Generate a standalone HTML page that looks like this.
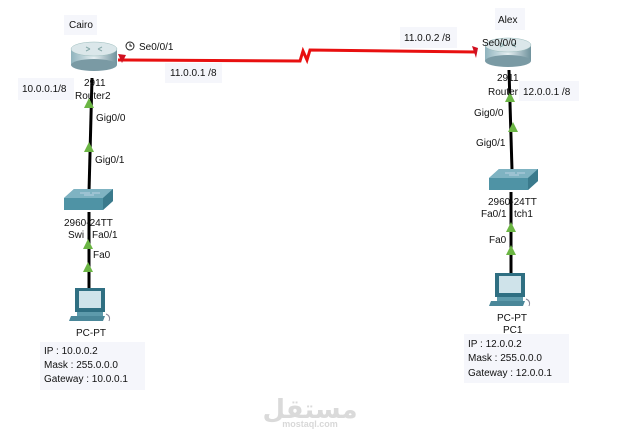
<!DOCTYPE html>
<html><head><meta charset="utf-8"><style>
html,body{margin:0;padding:0;background:#fff;}
svg{display:block;font-family:"Liberation Sans",Arial,sans-serif;font-size:10px;fill:#111;}
.b{fill:#f5f6fb;}
</style></head><body>
<svg width="620" height="438" viewBox="0 0 620 438" xmlns="http://www.w3.org/2000/svg">
<defs>
<linearGradient id="rs" x1="0" y1="0" x2="1" y2="0"><stop offset="0" stop-color="#8fb3bd"/><stop offset=".5" stop-color="#e6eff2"/><stop offset="1" stop-color="#6f929c"/></linearGradient>
<g id="router">
<rect x="-23" y="-8" width="46" height="16" fill="url(#rs)"/>
<ellipse cx="0" cy="8" rx="23" ry="6" fill="#7a9aa4"/>
<ellipse cx="0" cy="-8" rx="23" ry="7" fill="#dbe7ea" stroke="#9bb" stroke-width=".5"/>
<path d="M-8 -10 l4 2 M8 -10 l-4 2 M-8 -6 l4 -2 M8 -6 l-4 -2" stroke="#8aa" stroke-width="1"/>
</g>
<g id="switch">
<polygon points="-24,0 -14,-9 25,-9 25,3 15,12 -24,12" fill="#4f93a5"/>
<polygon points="-24,0 -14,-9 25,-9 15,0" fill="#7fb3c2"/>
<polygon points="15,0 25,-9 25,3 15,12" fill="#3a7a8c"/>
<path d="M-8 -5 h10 M4 -5 h8 M-4 -3 h10" stroke="#cde" stroke-width=".8"/>
</g>
<g id="pc">
<rect x="-16" y="0" width="30" height="24" fill="#2f6f82"/>
<rect x="-12" y="3" width="22" height="17" fill="#cfe3ea"/>
<rect x="-14" y="24" width="26" height="4" fill="#5d9aab"/>
<polygon points="-20,28 14,28 12,33 -22,33" fill="#4a8799"/>
<path d="M15 26 q5 2 3 7" stroke="#889" fill="none"/>
</g>
<polygon id="ga" points="0,-6 5,4 -5,4" fill="#6bb544"/>
</defs>

<line x1="92" y1="78" x2="89" y2="192" stroke="#000" stroke-width="3"/>
<line x1="89" y1="212" x2="89" y2="288" stroke="#000" stroke-width="3"/>
<use href="#ga" x="89" y="104"/><use href="#ga" x="89" y="148"/>
<use href="#ga" x="88" y="245"/><use href="#ga" x="88" y="268"/>
<line x1="509" y1="70" x2="512" y2="170" stroke="#000" stroke-width="3"/>
<line x1="511" y1="192" x2="511" y2="273" stroke="#000" stroke-width="3"/>
<use href="#ga" x="510" y="98"/><use href="#ga" x="513" y="128"/>
<use href="#ga" x="511" y="228"/><use href="#ga" x="511" y="251"/>

<polyline points="118,60 300,61 303,51 307,60 310,50 476,52" fill="none" stroke="#e81010" stroke-width="3"/>
<polygon points="118,54 126,55 122,63" fill="#d01020"/>
<polygon points="472,46 478,48 476,58" fill="#d01020"/>

<use href="#router" x="94" y="57"/>
<use href="#router" x="508" y="53"/>
<use href="#switch" x="88" y="198"/>
<use href="#switch" x="513" y="178"/>
<use href="#pc" x="91" y="288"/>
<use href="#pc" x="511" y="273"/>

<rect class="b" x="64" y="15" width="33" height="20"/><text x="69" y="28">Cairo</text>
<rect class="b" x="18" y="78" width="56" height="22"/><text x="22" y="92">10.0.0.1/8</text>
<text x="84" y="86">2911</text><text x="75" y="99">Router2</text>
<circle cx="130" cy="46" r="4" fill="none" stroke="#222"/><path d="M130 43.5v2.5h2" stroke="#222" fill="none"/>
<text x="139" y="50">Se0/0/1</text>
<rect class="b" x="165" y="63" width="57" height="20"/><text x="170" y="76">11.0.0.1 /8</text>
<text x="96" y="121">Gig0/0</text><text x="95" y="163">Gig0/1</text>
<text x="64" y="226">2960-24TT</text><text x="68" y="238">Swi</text><text x="92" y="238">Fa0/1</text>
<text x="93" y="258">Fa0</text>
<text x="76" y="336">PC-PT</text>
<rect class="b" x="40" y="342" width="105" height="48"/>
<text x="44" y="354">IP :  10.0.0.2</text>
<text x="44" y="368">Mask :  255.0.0.0</text>
<text x="44" y="382">Gateway  : 10.0.0.1</text>

<rect class="b" x="400" y="27" width="57" height="21"/><text x="404" y="41">11.0.0.2 /8</text>
<rect class="b" x="495" y="8" width="30" height="22"/><text x="498" y="23">Alex</text>
<text x="482" y="46">Se0/0/0</text>
<text x="497" y="81">2911</text><text x="488" y="95">Router</text>
<rect class="b" x="519" y="81" width="60" height="20"/><text x="523" y="95">12.0.0.1 /8</text>
<text x="474" y="116">Gig0/0</text><text x="476" y="146">Gig0/1</text>
<text x="488" y="205">2960-24TT</text><text x="481" y="217">Fa0/1</text><text x="514" y="217">tch1</text>
<text x="489" y="243">Fa0</text>
<text x="497" y="321">PC-PT</text><text x="503" y="333">PC1</text>
<rect class="b" x="464" y="334" width="105" height="49"/>
<text x="468" y="347">IP : 12.0.0.2</text>
<text x="468" y="361">Mask : 255.0.0.0</text>
<text x="468" y="376">Gateway  : 12.0.0.1</text>

<text x="310" y="418" text-anchor="middle" style="font-size:26px;font-weight:bold;fill:#dadada;font-family:'DejaVu Sans',sans-serif">مستقل</text>
<text x="310" y="427" text-anchor="middle" style="font-size:9px;font-weight:bold;fill:#d8d8d8">mostaql.com</text>
</svg>
</body></html>
